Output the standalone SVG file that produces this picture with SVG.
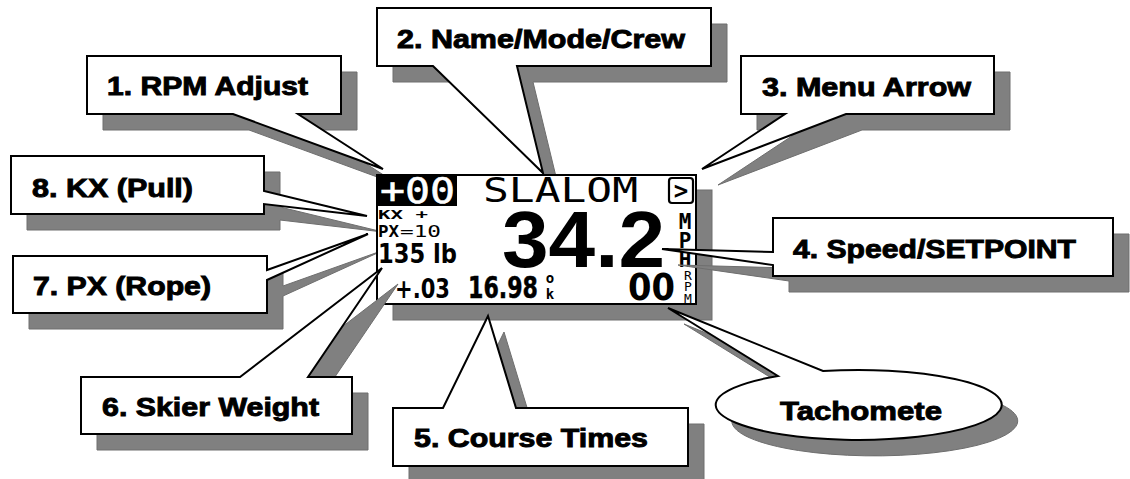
<svg xmlns="http://www.w3.org/2000/svg" width="1130" height="479" viewBox="0 0 1130 479">
<style>
.sh{fill:#808080;stroke:#6e6e6e;stroke-width:1}
.co{fill:#fff;stroke:#000;stroke-width:2;stroke-linejoin:miter}
.lbl{font-family:"Liberation Sans",Arial,sans-serif;font-weight:bold;font-size:25px;fill:#000;stroke:#000;stroke-width:0.9}
.mono{font-family:"DejaVu Sans Mono","Liberation Mono",monospace}
.sans{font-family:"DejaVu Sans","Liberation Sans",sans-serif}
.b{font-weight:bold}
</style>
<rect width="1130" height="479" fill="#fff"/>

<g id="callout-1">
<path class="sh" transform="translate(16,16)" d="M87,56 H341 V114 H298 L383,169 L233,114 H87 Z"/>
<path class="co" d="M87,56 H341 V114 H298 L383,169 L233,114 H87 Z"/>
<text class="lbl" x="107" y="95" textLength="201" lengthAdjust="spacingAndGlyphs">1. RPM Adjust</text>
</g>
<g id="callout-2">
<path class="sh" transform="translate(16,16)" d="M377,8 H711 V66 H517 L543,173 L433,66 H377 Z"/>
<path class="co" d="M377,8 H711 V66 H517 L543,173 L433,66 H377 Z"/>
<text class="lbl" x="397" y="48" textLength="288" lengthAdjust="spacingAndGlyphs">2. Name/Mode/Crew</text>
</g>
<g id="callout-3">
<path class="sh" transform="translate(16,16)" d="M741,56 H994 V114 H846 L702,169 L785,114 H741 Z"/>
<path class="co" d="M741,56 H994 V114 H846 L702,169 L785,114 H741 Z"/>
<text class="lbl" x="762" y="96" textLength="209" lengthAdjust="spacingAndGlyphs">3. Menu Arrow</text>
</g>
<g id="callout-8">
<path class="sh" transform="translate(16,16)" d="M11,156 H264 V191 L367,216 L264,204 V214 H11 Z"/>
<path class="co" d="M11,156 H264 V191 L367,216 L264,204 V214 H11 Z"/>
<text class="lbl" x="32" y="197" textLength="161" lengthAdjust="spacingAndGlyphs">8. KX (Pull)</text>
</g>
<g id="callout-7">
<path class="sh" transform="translate(16,16)" d="M13,256 H267 V270 L368,234 L267,280 V313 H13 Z"/>
<path class="co" d="M13,256 H267 V270 L368,234 L267,280 V313 H13 Z"/>
<text class="lbl" x="33" y="295" textLength="178" lengthAdjust="spacingAndGlyphs">7. PX (Rope)</text>
</g>

<g id="display">
<rect class="sh" x="393" y="190" width="319" height="130"/>
<rect x="377" y="175" width="319" height="129" fill="#fff" stroke="#000" stroke-width="2"/>
<rect x="377" y="175" width="80" height="31" fill="#000"/>
<text class="mono" x="380" y="203" font-size="36" fill="#fff" stroke="#fff" stroke-width="0.6" textLength="75" lengthAdjust="spacingAndGlyphs">+00</text>
<text class="mono" x="483" y="202" font-size="34" fill="#000" textLength="155" lengthAdjust="spacingAndGlyphs">SLALOM</text>
<rect x="669" y="178" width="24" height="25" rx="3" fill="#fff" stroke="#000" stroke-width="2.2"/>
<text class="mono b" x="681" y="199" font-size="24" text-anchor="middle" fill="#000">&gt;</text>
<text class="mono b" x="378" y="219" font-size="12" textLength="50" lengthAdjust="spacingAndGlyphs">KX +</text>
<text class="mono b" x="378" y="237" font-size="16" textLength="21" lengthAdjust="spacingAndGlyphs">PX</text>
<text class="mono" x="400" y="237" font-size="16" textLength="41" lengthAdjust="spacingAndGlyphs">=10</text>
<text class="sans b" x="378" y="263" font-size="26" textLength="79" lengthAdjust="spacingAndGlyphs">135 lb</text>
<text x="502" y="267" font-family="Liberation Sans, Arial, sans-serif" font-weight="bold" font-size="80" textLength="163" lengthAdjust="spacingAndGlyphs">34.2</text>
<text class="mono b" font-size="21" text-anchor="middle"><tspan x="685" y="229">M</tspan><tspan x="685" y="248">P</tspan><tspan x="685" y="267">H</tspan></text>
<text class="sans b" x="395" y="298" font-size="26" textLength="55" lengthAdjust="spacingAndGlyphs">+.03</text>
<text class="sans b" x="468" y="298" font-size="30" stroke="#000" stroke-width="0.5" textLength="70" lengthAdjust="spacingAndGlyphs">16.98</text>
<text class="mono b" font-size="14" text-anchor="middle"><tspan x="550" y="283">o</tspan><tspan x="550" y="299">k</tspan></text>
<text class="sans b" x="628" y="300" font-size="37" textLength="47" lengthAdjust="spacingAndGlyphs">00</text>
<text class="mono" font-size="13" text-anchor="middle"><tspan x="688" y="280">R</tspan><tspan x="688" y="291">P</tspan><tspan x="688" y="303">M</tspan></text>
</g>

<g id="callout-4">
<path class="sh" transform="translate(16,16)" d="M773,218 H1113 V276 H773 V265 L662,249 L773,252 Z"/>
<path class="co" d="M773,218 H1113 V276 H773 V265 L662,249 L773,252 Z"/>
<text class="lbl" x="793" y="258" textLength="283" lengthAdjust="spacingAndGlyphs">4. Speed/SETPOINT</text>
</g>
<g id="callout-6">
<path class="sh" transform="translate(16,16)" d="M81,377 H240 L382,268 L308,377 H352 V434 H81 Z"/>
<path class="co" d="M81,377 H240 L382,268 L308,377 H352 V434 H81 Z"/>
<text class="lbl" x="102" y="416" textLength="217" lengthAdjust="spacingAndGlyphs">6. Skier Weight</text>
</g>
<g id="callout-5">
<path class="sh" transform="translate(16,16)" d="M393,408 H443 L488,316 L516,408 H688 V466 H393 Z"/>
<path class="co" d="M393,408 H443 L488,316 L516,408 H688 V466 H393 Z"/>
<text class="lbl" x="414" y="447" textLength="234" lengthAdjust="spacingAndGlyphs">5. Course Times</text>
</g>
<g id="callout-tach">
<path class="sh" transform="translate(16,16)" d="M778,376 L668,308 L823,371 A143,35 0 1 1 778,376 Z"/>
<path class="co" d="M778,376 L668,308 L823,371 A143,35 0 1 1 778,376 Z"/>
<text class="lbl" x="780" y="420" textLength="162" lengthAdjust="spacingAndGlyphs">Tachomete</text>
</g>
</svg>
